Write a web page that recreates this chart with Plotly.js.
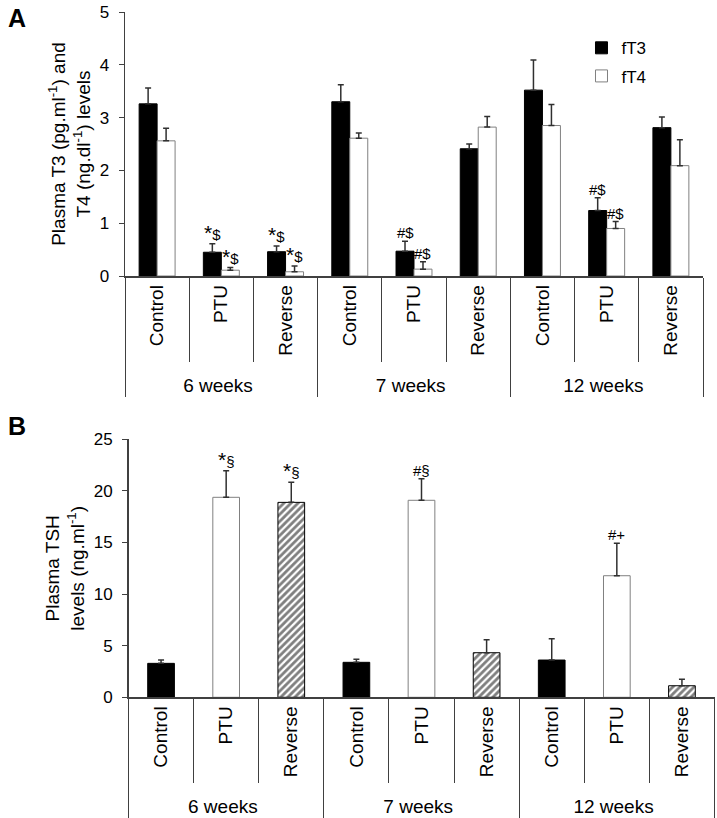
<!DOCTYPE html>
<html>
<head>
<meta charset="utf-8">
<script src="https://cdn.plot.ly/plotly-3.0.1.min.js"></script>
<style>html,body{margin:0;padding:0;background:#fff;}#chart{width:717px;height:818px;}</style>
</head>
<body>
<div id="chart"></div>
<script>
// ---- data ----
const groups = ['6 weeks','6 weeks','6 weeks','7 weeks','7 weeks','7 weeks','12 weeks','12 weeks','12 weeks'];
const treatments = ['Control','PTU','Reverse','Control','PTU','Reverse','Control','PTU','Reverse'];

const fT3 = [3.26, 0.45, 0.46, 3.30, 0.47, 2.41, 3.52, 1.24, 2.81];
const fT3Err = [0.30, 0.16, 0.11, 0.32, 0.19, 0.09, 0.57, 0.24, 0.20];
const fT4 = [2.56, 0.11, 0.08, 2.61, 0.13, 2.82, 2.85, 0.90, 2.09];
const fT4Err = [0.24, 0.05, 0.11, 0.10, 0.14, 0.20, 0.40, 0.13, 0.49];

const tsh = [3.29, 19.38, 18.89, 3.39, 19.09, 4.32, 3.61, 11.78, 1.12];
const tshErr = [0.32, 2.58, 1.94, 0.29, 2.09, 1.26, 2.07, 3.14, 0.62];

const fT3Sig = ['', '*$', '*$', '', '#$', '', '', '#$', ''];
const fT4Sig = ['', '*$', '*$', '', '#$', '', '', '#$', ''];
const tshSig = ['', '*§', '*§', '', '#§', '', '', '#+', ''];

// ---- styling ----
const FONT = 'Liberation Sans, Arial, sans-serif';
const AX = '#404040';
const zeros = fT3.map(() => 0);
const errStyle = {type: 'data', symmetric: false, color: '#303030', thickness: 1.5, width: 3};

function pick(arr, name) { return arr.map((v, i) => treatments[i] === name ? v : null); }

const traces = [
  {type: 'bar', name: 'fT3', x: [groups, treatments], y: fT3, xaxis: 'x', yaxis: 'y',
   legendgroup: 'a',
   marker: {color: '#000000', line: {color: '#000000', width: 1}},
   error_y: Object.assign({array: fT3Err, arrayminus: zeros}, errStyle)},
  {type: 'bar', name: 'fT4', x: [groups, treatments], y: fT4, xaxis: 'x', yaxis: 'y',
   legendgroup: 'b',
   marker: {color: '#ffffff', line: {color: '#808080', width: 1}},
   error_y: Object.assign({array: fT4Err, arrayminus: zeros}, errStyle)}
];

const tshStyles = {
  'Control': {color: '#000000', line: {color: '#000000', width: 1}},
  'PTU': {color: '#ffffff', line: {color: '#808080', width: 1}},
  'Reverse': {color: '#ffffff', line: {color: '#000000', width: 1},
              pattern: {shape: '/', fgcolor: '#000000', bgcolor: '#ffffff', size: 5, solidity: 0.55, fillmode: 'overlay'}}
};
['Control', 'PTU', 'Reverse'].forEach(name => {
  traces.push({type: 'bar', name: 'TSH ' + name, x: [groups, treatments], y: pick(tsh, name),
    xaxis: 'x2', yaxis: 'y2', showlegend: false, width: 0.41, offset: -0.205,
    marker: tshStyles[name],
    error_y: Object.assign({array: pick(tshErr, name), arrayminus: zeros}, errStyle)});
});

function sigText(s) {
  const first = s.charAt(0), rest = s.slice(1);
  if (first === '*') return '<span style="font-size:21px">*</span><span style="font-size:15px">' + rest + '</span>';
  return '<span style="font-size:15px">' + s + '</span>';
}

const annotations = [];
function addSig(sig, vals, errs, xref, yref, off) {
  sig.forEach((s, i) => {
    if (!s) return;
    annotations.push({xref: xref, yref: yref, x: i + off, y: vals[i] + errs[i],
      text: sigText(s), showarrow: false, yanchor: 'bottom', xanchor: 'center', yshift: -2,
      font: {family: FONT, size: 15, color: '#000'}});
  });
}
addSig(fT3Sig, fT3, fT3Err, 'x', 'y', -0.14);
addSig(fT4Sig, fT4, fT4Err, 'x', 'y', 0.14);
addSig(tshSig, tsh, tshErr, 'x2', 'y2', 0);

annotations.push({xref: 'paper', yref: 'paper', x: 0.008, y: 0.997, xanchor: 'left', yanchor: 'top',
  text: '<b>A</b>', showarrow: false, font: {family: FONT, size: 25, color: '#000'}});
annotations.push({xref: 'paper', yref: 'paper', x: 0.008, y: 0.499, xanchor: 'left', yanchor: 'top',
  text: '<b>B</b>', showarrow: false, font: {family: FONT, size: 25, color: '#000'}});

function xAxis(domain, anchor) {
  return {type: 'multicategory', domain: domain, anchor: anchor,
    showline: true, linecolor: AX, linewidth: 1.5, mirror: false,
    ticks: 'outside', tickson: 'boundaries', ticklen: 84, tickcolor: AX, tickwidth: 1,
    tickangle: -90, tickfont: {family: FONT, size: 19, color: '#000'},
    showdividers: true, dividercolor: AX, dividerwidth: 1,
    showgrid: false, zeroline: false, fixedrange: true};
}
function yAxis(domain, anchor, range, dtick, title) {
  return {domain: domain, anchor: anchor, range: range, dtick: dtick,
    showline: true, linecolor: AX, linewidth: 1.5,
    ticks: 'outside', ticklen: 5, tickcolor: AX, tickwidth: 1,
    tickfont: {family: FONT, size: 17, color: '#000'}, ticklabelstandoff: 6,
    showgrid: false, zeroline: false, fixedrange: true,
    title: {text: title, font: {family: FONT, size: 19, color: '#000'}, standoff: 4}};
}

const layout = {
  width: 717, height: 818,
  margin: {l: 0, r: 0, t: 0, b: 0},
  paper_bgcolor: '#ffffff', plot_bgcolor: '#ffffff',
  barmode: 'group', bargap: 0.44, bargroupgap: 0,
  font: {family: FONT, color: '#000'},
  showlegend: true,
  legend: {x: 0.811, y: 0.963, xanchor: 'left', yanchor: 'top', bgcolor: 'rgba(0,0,0,0)',
           font: {family: FONT, size: 17, color: '#000'}, tracegroupgap: 3, itemwidth: 30},
  xaxis: xAxis([125/717, 703/717], 'y'),
  yaxis: yAxis([1 - 276/818, 1 - 12/818], 'x', [0, 5], 1,
               'Plasma T3 (pg.ml<sup>-1</sup>) and<br>T4 (ng.dl<sup>-1</sup>) levels'),
  xaxis2: xAxis([128.5/717, 714.5/717], 'y2'),
  yaxis2: yAxis([1 - 697.3/818, 1 - 439.3/818], 'x2', [0, 25], 5,
               'Plasma TSH<br>levels (ng.ml<sup>-1</sup>)'),
  annotations: annotations
};

Plotly.newPlot('chart', traces, layout, {displayModeBar: false, staticPlot: true});
</script>
</body>
</html>
